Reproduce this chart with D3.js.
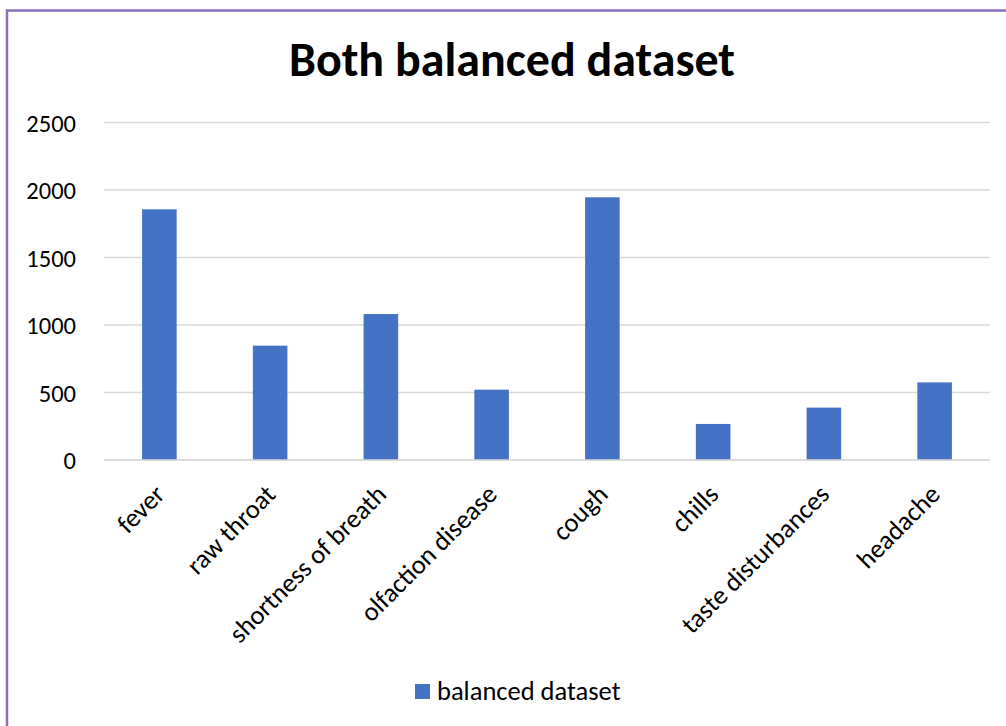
<!DOCTYPE html>
<html>
<head>
<meta charset="utf-8">
<script src="https://cdn.jsdelivr.net/npm/d3@7/dist/d3.min.js"></script>
<style>
  html, body { margin: 0; padding: 0; background: #fff; }
  svg text { font-family: Carlito, Lato, sans-serif; fill: #000; }
</style>
</head>
<body>
<svg id="chart" width="1006" height="726"></svg>
<script>
const categories = ["fever", "raw throat", "shortness of breath", "olfaction disease", "cough", "chills", "taste disturbances", "headache"];
const values = [1857, 847, 1081, 521, 1946, 267, 388, 575];
const yTicks = [0, 500, 1000, 1500, 2000, 2500];
const seriesName = "balanced dataset";
const titleText = "Both balanced dataset";

const svg = d3.select("#chart");
const W = 1006, H = 726;
const barColor = "#4472C4";

// border
svg.append("path")
  .attr("d", `M7,${H} L7,10.5 L${W},10.5`)
  .attr("fill", "none").attr("stroke", "#8A70B8").attr("stroke-width", 2.5);

const x = d3.scaleBand().domain(categories).range([104, 990]).paddingInner(0.688).paddingOuter(0.344);
const y = d3.scaleLinear().domain([0, 2500]).range([460, 122.5]);

// gridlines
svg.append("g").selectAll("line").data(yTicks).join("line")
  .attr("x1", 104).attr("x2", 990)
  .attr("y1", d => y(d)).attr("y2", d => y(d))
  .attr("stroke", "#D9D9D9").attr("stroke-width", 1.5);

// y axis labels
const yAxis = d3.axisLeft(y).tickValues(yTicks).tickSize(0).tickPadding(0).tickFormat(d3.format("d"));
const ya = svg.append("g").attr("transform", "translate(76,0)").call(yAxis);
ya.select(".domain").remove();
ya.selectAll("text").attr("font-size", 24.5).attr("font-family", "Carlito, Lato, sans-serif").attr("fill", "#000").attr("dy", "0.36em");

// bars
svg.append("g").selectAll("rect").data(values).join("rect")
  .attr("x", (d, i) => x(categories[i]))
  .attr("width", x.bandwidth())
  .attr("y", d => y(d))
  .attr("height", d => y(0) - y(d))
  .attr("fill", barColor);

// x axis line
svg.append("line").attr("x1", 104).attr("x2", 990).attr("y1", y(0)).attr("y2", y(0))
  .attr("stroke", "#D9D9D9").attr("stroke-width", 1.5);

// x labels
const xAxis = d3.axisBottom(x).tickSize(0).tickPadding(0);
const xa = svg.append("g").attr("transform", `translate(0,${y(0)})`).call(xAxis);
xa.select(".domain").remove();
xa.selectAll("text")
  .attr("font-size", 26.5).attr("font-family", "Carlito, Lato, sans-serif").attr("fill", "#000")
  .attr("text-anchor", "end")
  .attr("dy", null).attr("y", null)
  .attr("transform", "translate(7,36) rotate(-45)");

// title
svg.append("text").attr("x", 512).attr("y", 76).attr("text-anchor", "middle")
  .attr("font-size", 48).attr("font-weight", "bold").text(titleText);

// legend
const lg = svg.append("g");
lg.append("rect").attr("x", 415).attr("y", 684).attr("width", 15).attr("height", 15).attr("fill", barColor);
lg.append("text").attr("x", 437).attr("y", 700).attr("font-size", 26.5).text(seriesName);
</script>
</body>
</html>
